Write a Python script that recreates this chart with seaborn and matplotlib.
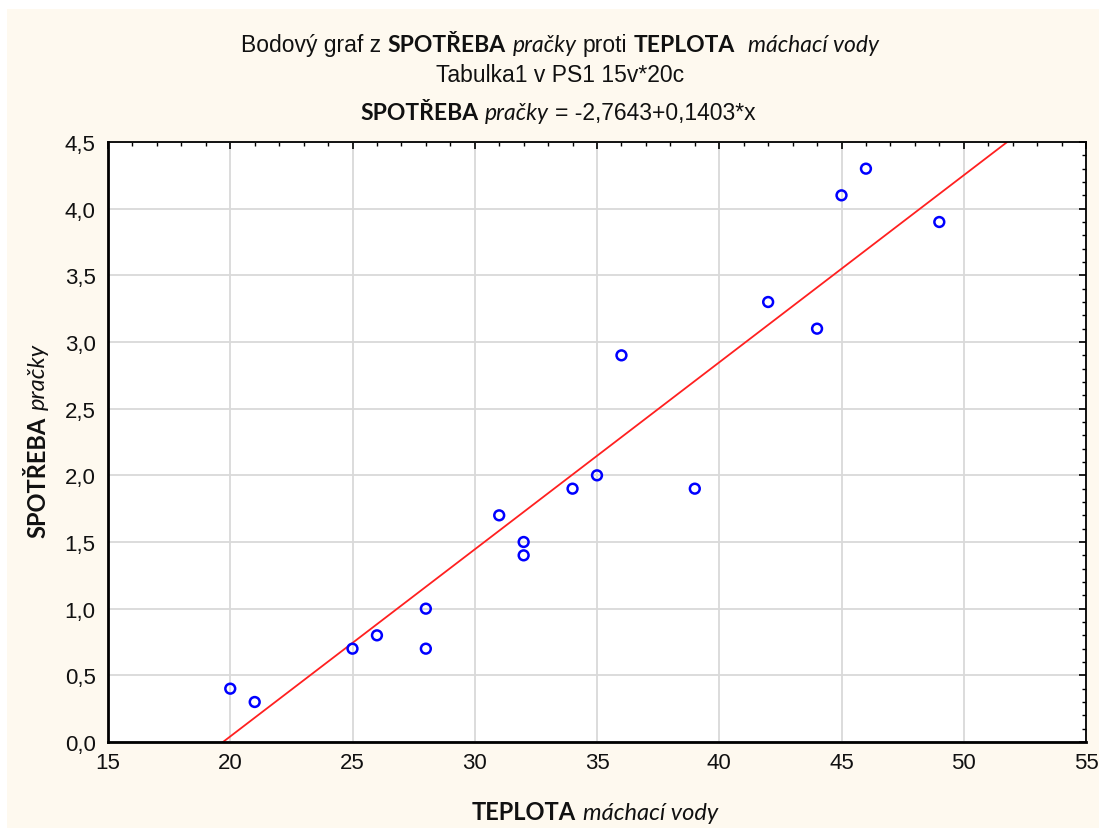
import matplotlib
matplotlib.use('Agg')
import numpy as np
import pandas as pd
import matplotlib.pyplot as plt
import seaborn as sns
from matplotlib.ticker import MultipleLocator
from matplotlib.patches import Rectangle

# ==========================================
# data
# ==========================================
teplota = [20, 21, 25, 26, 28, 28, 31, 32, 32, 34, 35, 36, 39, 42, 44, 45, 46, 49]
spotreba = [0.4, 0.3, 0.7, 0.8, 1.0, 0.7, 1.7, 1.5, 1.4, 1.9, 2.0, 2.9, 1.9, 3.3, 3.1, 4.1, 4.3, 3.9]

intercept = -2.7643
slope = 0.1403

x_ticks = [15, 20, 25, 30, 35, 40, 45, 50, 55]
x_tick_labels = ['15', '20', '25', '30', '35', '40', '45', '50', '55']
y_ticks = [0.0, 0.5, 1.0, 1.5, 2.0, 2.5, 3.0, 3.5, 4.0, 4.5]
y_tick_labels = ['0,0', '0,5', '1,0', '1,5', '2,0', '2,5', '3,0', '3,5', '4,0', '4,5']

# ==========================================
# figure
# ==========================================
W, H = 1099, 829
sns.set_style('white')
REG = ['Liberation Sans', 'DejaVu Sans']
BOLD = ['Lato', 'Liberation Sans', 'DejaVu Sans']
plt.rcParams['font.family'] = REG
TICK_SIZE = 16

CREAM = '#FEF9EF'
fig = plt.figure(figsize=(W / 100, H / 100), dpi=100)
fig.patch.set_facecolor(CREAM)
# thin white margin on the left / top like the screenshot
fig.patches.append(Rectangle((0, 0), 7 / W, 1, transform=fig.transFigure,
                             facecolor='white', edgecolor='none', zorder=-5))
fig.patches.append(Rectangle((0, 1 - 10 / H), 1, 10 / H, transform=fig.transFigure,
                             facecolor='white', edgecolor='none', zorder=-5))

ax = fig.add_axes([108 / W, 1 - 743 / H, (1086 - 108) / W, (743 - 143) / H])
ax.set_facecolor('white')

df = pd.DataFrame({'teplota': teplota, 'spotreba': spotreba})

x_line = np.array([x_ticks[0], x_ticks[-1]], dtype=float)
y_line = intercept + slope * x_line
sns.lineplot(x=x_line, y=y_line, ax=ax, color='#FF2020', linewidth=1.3, zorder=2)

sns.scatterplot(data=df, x='teplota', y='spotreba', ax=ax, marker='o', s=50,
                facecolors='none', edgecolor='#0000FF', linewidth=1.8, zorder=3)

ax.set_xlim(x_ticks[0], x_ticks[-1])
ax.set_ylim(y_ticks[0], y_ticks[-1])
ax.xaxis.set_minor_locator(MultipleLocator(1))
ax.yaxis.set_minor_locator(MultipleLocator(0.1))
ax.tick_params(which='both', direction='in', top=True, right=True, color='black')
ax.tick_params(which='major', length=5, width=1.2)
ax.tick_params(which='minor', length=3, width=1.0)
ax.tick_params(axis='x', which='major', pad=7)
ax.tick_params(axis='y', which='major', pad=9)
ax.set_xticks(x_ticks)
ax.set_xticklabels(x_tick_labels, fontsize=TICK_SIZE, color='#111111')
ax.set_yticks(y_ticks)
ax.set_yticklabels(y_tick_labels, fontsize=TICK_SIZE, color='#111111')

ax.grid(True, which='major', color='#D9D9D9', linewidth=1.3)
ax.set_axisbelow(True)
ax.set_xlabel('')
ax.set_ylabel('')
for side, lw in [('left', 2.0), ('bottom', 2.0), ('top', 1.3), ('right', 1.3)]:
    ax.spines[side].set_visible(True)
    ax.spines[side].set_color('black')
    ax.spines[side].set_linewidth(lw)


# ==========================================
# mixed bold / italic text
# ==========================================
def rich_text(pieces, x, y, size, rotation=0):
    # pieces: (text, family, weight, style); None text = a space
    r = fig.canvas.get_renderer()
    gap = 0.278 * size * 100 / 72
    widths = []
    for s, fam, w, st in pieces:
        if s is None:
            widths.append(gap)
            continue
        t = fig.text(0, 0, s, fontsize=size, family=fam, fontweight=w, fontstyle=st)
        widths.append(t.get_window_extent(r).width)
        t.remove()
    pos = -sum(widths) / 2
    for (s, fam, w, st), wd in zip(pieces, widths):
        if s is not None:
            if rotation == 0:
                px, py = x + pos, y
            else:
                px, py = x, y - pos
            fig.text(px / W, 1 - py / H, s, fontsize=size, family=fam, fontweight=w,
                     fontstyle=st, rotation=rotation, rotation_mode='anchor',
                     ha='left', va='baseline', color='#111111')
        pos += wd


SP = (None, None, None, None)
rich_text([('Bodový graf z', REG, 'normal', 'normal'), SP,
           ('SPOTŘEBA', BOLD, 'bold', 'normal'), SP,
           ('pračky', BOLD, 'normal', 'italic'), SP,
           ('proti', REG, 'normal', 'normal'), SP,
           ('TEPLOTA', BOLD, 'bold', 'normal'), SP, SP,
           ('máchací vody', BOLD, 'normal', 'italic')], 560, 52, 16.5)
rich_text([('Tabulka1 v PS1 15v*20c', REG, 'normal', 'normal')], 560, 82, 16.5)
rich_text([('SPOTŘEBA', BOLD, 'bold', 'normal'), SP,
           ('pračky', BOLD, 'normal', 'italic'), SP,
           ('= -2,7643+0,1403*x', REG, 'normal', 'normal')], 558, 120, 16.5)

rich_text([('TEPLOTA', BOLD, 'bold', 'normal'), SP,
           ('máchací vody', BOLD, 'normal', 'italic')], 595, 820, 17)
rich_text([('SPOTŘEBA', BOLD, 'bold', 'normal'), SP,
           ('pračky', BOLD, 'normal', 'italic')], 45, 441, 17, rotation=90)

fig.savefig('out.png', dpi=100, facecolor=fig.get_facecolor())
